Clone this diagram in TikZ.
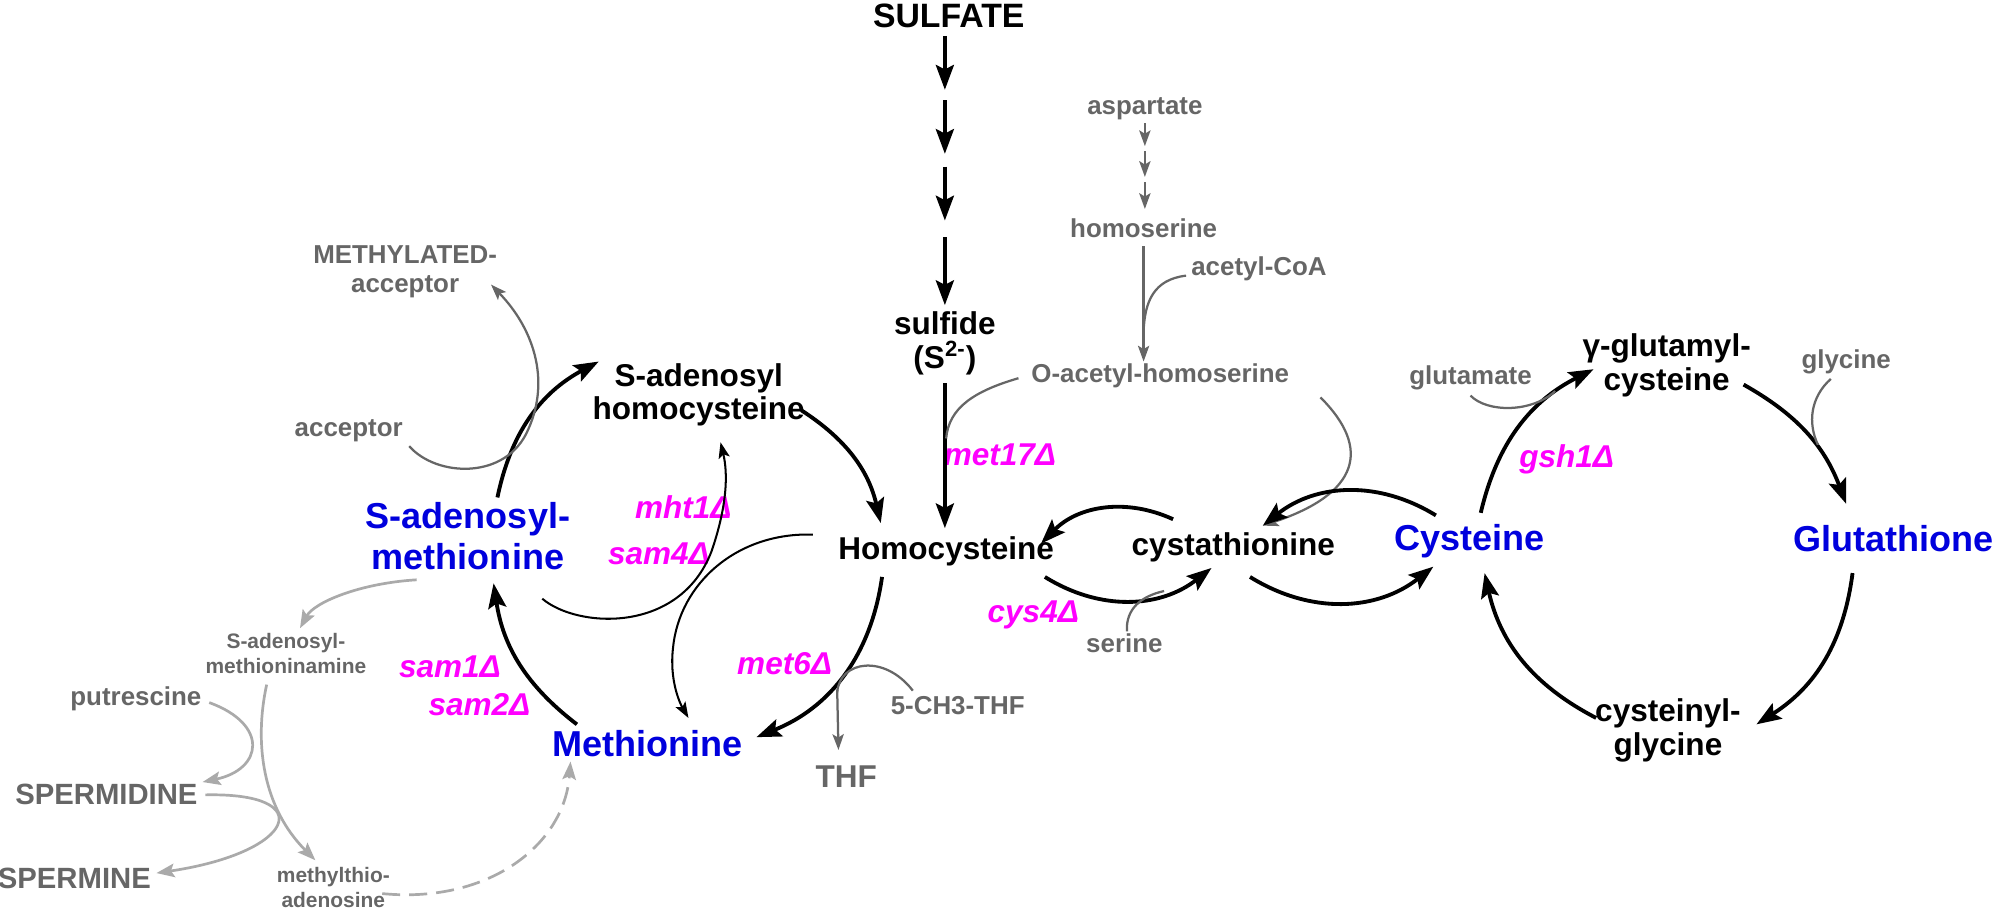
\documentclass[tikz,border=0pt]{standalone}
\usepackage{fontspec}
\setmainfont{Liberation Sans}
\usetikzlibrary{arrows.meta}
\definecolor{dg}{HTML}{666666}
\definecolor{lg}{HTML}{AAAAAA}
\definecolor{bl}{HTML}{0000DD}
\definecolor{mg}{HTML}{FF00FF}
\tikzset{
 lab/.style={font=\bfseries\fontsize{14}{15}\selectfont,align=center,inner sep=1pt},
 blab/.style={lab,text=bl,font=\bfseries\fontsize{16}{18}\selectfont},
 glab/.style={lab,text=dg,font=\bfseries\fontsize{11.5}{13}\selectfont},
 slab/.style={lab,text=dg,font=\bfseries\fontsize{9.3}{11}\selectfont},
 plab/.style={lab,text=mg,font=\bfseries\itshape\fontsize{14}{15}\selectfont},
 big/.style={line width=1.7pt,-{Stealth[length=11pt,width=8pt,inset=2pt]}},
 thin/.style={line width=0.9pt,-{Stealth[length=7pt,width=5pt,inset=1.5pt]}},
 gthin/.style={dg,line width=1pt,-{Stealth[length=7pt,width=5pt,inset=1.5pt]}},
 gline/.style={dg,line width=1pt},
 lthin/.style={lg,line width=1.2pt,-{Stealth[length=8pt,width=6pt,inset=1.5pt]}},
 lline/.style={lg,line width=1.2pt},
}
\begin{document}
\begin{tikzpicture}[x=0.02cm,y=0.02cm]
\useasboundingbox (0,0) rectangle (1560,-710);
% nodes
\node[lab,font=\bfseries\fontsize{15}{18}\selectfont] (sulfate) at (740,-12) {SULFATE};
\node[lab] (sulfide) at (737,-268) {sulfide\\(S\textsuperscript{2-})};
\node[glab] (asp) at (893,-85) {aspartate};
\node[glab] (hser) at (892,-178) {homoserine};
\node[glab] (acoa) at (982,-210) {acetyl-CoA};
\node[glab] (oah) at (905,-293) {O-acetyl-homoserine};
\node[glab] (mety) at (316,-212) {METHYLATED-\\acceptor};
\node[glab] (acc) at (272,-336) {acceptor};
\node[lab] (sah) at (545,-308) {S-adenosyl\\homocysteine};
\node[blab] (sam) at (365,-418) {S-adenosyl-\\methionine};
\node[lab] (hcy) at (738,-430) {Homocysteine};
\node[lab] (cysta) at (962,-427) {cystathionine};
\node[blab] (cys) at (1146,-422) {Cysteine};
\node[blab] (gsh) at (1477,-420) {Glutathione};
\node[lab] (gglu) at (1300,-285) {γ-glutamyl-\\cysteine};
\node[glab] (gly) at (1440,-282) {glycine};
\node[glab] (glu) at (1147,-295) {glutamate};
\node[lab] (cg) at (1301,-570) {cysteinyl-\\glycine};
\node[glab] (ser) at (877,-502) {serine};
\node[plab] (cys4) at (806,-480) {cys4Δ};
\node[plab] (met17) at (780,-355) {met17Δ};
\node[plab] (gsh1) at (1222,-358) {gsh1Δ};
\node[plab] (mht1) at (533,-396) {mht1Δ};
\node[plab] (sam4) at (514,-432) {sam4Δ};
\node[plab] (sam1) at (351,-520) {sam1Δ};
\node[plab] (sam2) at (374,-550) {sam2Δ};
\node[plab] (met6) at (612,-518) {met6Δ};
\node[blab] (met) at (505,-580) {Methionine};
\node[glab] (mthf) at (747,-550) {5-CH3-THF};
\node[glab,font=\bfseries\fontsize{14}{15}\selectfont] (thf) at (660,-606) {THF};
\node[slab] (samn) at (223,-510) {S-adenosyl-\\methioninamine};
\node[glab] (put) at (106,-545) {putrescine};
\node[glab,font=\bfseries\fontsize{13}{15}\selectfont] (spd) at (83,-620) {SPERMIDINE};
\node[glab,font=\bfseries\fontsize{13}{15}\selectfont] (spm) at (58,-685) {SPERMINE};
\node[slab] (mta) at (260,-692) {methylthio-\\adenosine};
% sulfate chain
\draw[big] (737,-28) -- (737,-70);
\draw[big] (737,-78) -- (737,-120);
\draw[big] (737,-130) -- (737,-172);
\draw[big] (737,-185) -- (737,-238);
\draw[big] (sulfide.south) ++(0,-4) -- (737,-412);
\draw[gline] (oah.west) ++(-8,-2) .. controls (760,-305) and (740,-318) .. (738,-342);
% aspartate chain
\draw[gthin] (893,-96) -- (893,-114);
\draw[gthin] (893,-118) -- (893,-138);
\draw[gthin] (893,-142) -- (893,-163);
\draw[gthin] (892,-192) -- (892,-282);
\draw[gline] (acoa.west) ++(-2,-5) .. controls (900,-218) and (893,-235) .. (892,-258);
\draw[gthin] (1030,-310) .. controls (1070,-350) and (1060,-385) .. (985,-410);
% transsulfuration
\draw[big] (1120,-402) to[bend right=35] (985,-410);
\draw[big] (915,-405) to[bend right=35] (812,-424);
\draw[big] (815,-450) to[bend right=35] (945,-443);
\draw[big] (975,-450) to[bend right=35] (1118,-442);
\draw[gline] (ser.north) ++(2,0) .. controls (878,-475) and (890,-465) .. (908,-461);
% glutathione cycle
\draw[big] (1155,-400) to[bend left=25] (1243,-288);
\draw[big] (1360,-300) to[bend left=20] (1440,-393);
\draw[big] (1445,-447) to[bend left=25] (1370,-565);
\draw[big] (1245,-560) to[bend left=25] (1158,-447);
\draw[gline] (glu.south) ++(0,-2) .. controls (1160,-322) and (1195,-322) .. (1213,-305);
\draw[gline] (gly.south) ++(-12,-2) .. controls (1412,-310) and (1410,-330) .. (1418,-347);
% methionine cycle
\draw[big] (388,-388) to[bend left=25] (467,-282);
\draw[big] (625,-320) to[bend left=22] (687,-408);
\draw[big] (688,-450) to[bend left=30] (590,-575);
\draw[big] (450,-565) to[bend left=22] (385,-455);
\draw[gthin] (acc.east) ++(3,-12) .. controls (340,-372) and (395,-375) .. (412,-335) .. controls (430,-295) and (415,-255) .. (383,-222);
\draw[thin] (634,-417) .. controls (575,-415) and (530,-455) .. (525,-505) .. controls (522,-530) and (530,-548) .. (537,-560);
\draw[thin] (423,-467) .. controls (450,-490) and (530,-495) .. (555,-430) .. controls (567,-395) and (568,-370) .. (562,-345);
\draw[gline] (mthf.north) ++(-35,2) .. controls (690,-510) and (655,-515) .. (653,-540);
\draw[gthin] (653,-538) -- (654,-585);
% polyamines
\draw[lthin] (sam.south) ++(-40,-6) .. controls (280,-455) and (245,-470) .. (234,-490);
\draw[lthin] (208,-534) .. controls (198,-580) and (205,-630) .. (246,-671);
\draw[lthin] (put.east) ++(4,-3) .. controls (210,-565) and (205,-600) .. (158,-610);
\draw[lthin] (spd.east) ++(4,0) .. controls (250,-618) and (230,-665) .. (122,-681);
\draw[lline,dashed,dash pattern=on 8pt off 4pt,-{Stealth[length=8pt,width=6pt,inset=1.5pt]}] (mta.east) ++(-8,-5) .. controls (380,-705) and (440,-660) .. (445,-594);
\end{tikzpicture}
\end{document}
